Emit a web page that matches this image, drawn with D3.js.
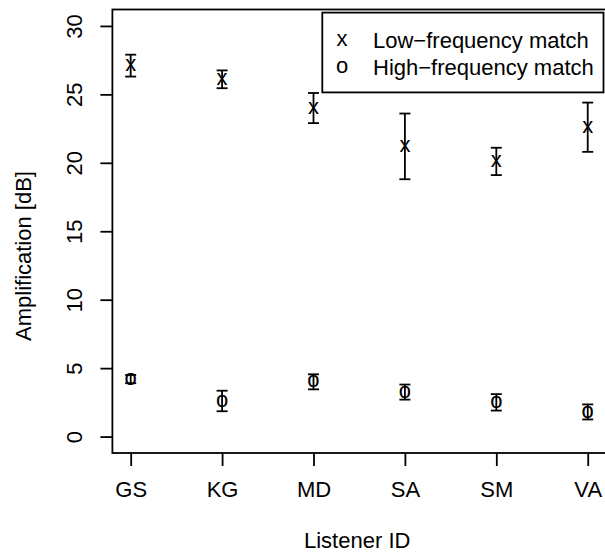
<!DOCTYPE html>
<html>
<head>
<meta charset="utf-8">
<script src="https://cdn.jsdelivr.net/npm/d3@7/dist/d3.min.js"></script>
<style>
  html, body { margin: 0; padding: 0; background: #fff; }
  svg { display: block; }
  text { font-family: "Liberation Sans", Arial, Helvetica, sans-serif; fill: #000; }
</style>
</head>
<body>
<div id="chart"></div>
<script>
// Listener IDs on the x axis
const listeners = ["GS", "KG", "MD", "SA", "SM", "VA"];

// Mean amplification (dB) and error half-widths for each match condition
const lowMean  = [27.1, 26.1, 24.0, 21.2, 20.1, 22.6];
const lowErr   = [0.8, 0.65, 1.1, 2.4, 1.0, 1.8];
const highMean = [4.2, 2.6, 4.0, 3.25, 2.5, 1.8];
const highErr  = [0.3, 0.75, 0.55, 0.55, 0.6, 0.55];

// Axis ticks and legend entries
const yTicks = [0, 5, 10, 15, 20, 25, 30];
const legendSymbols = ["x", "o"];
const legendLabels = ["Low\u2212frequency match", "High\u2212frequency match"];

const W = 605, H = 556;
const fs = 22;
const lw = 1.8;

const svg = d3.select("#chart").append("svg")
  .attr("width", W).attr("height", H);

const x = d3.scaleLinear().domain([0.8, 6.2]).range([112.4, 606]);
const y = d3.scaleLinear().domain([-1.2, 31.2]).range([453, 9.5]);

// plot frame
svg.append("rect")
  .attr("x", x(0.8)).attr("y", y(31.2))
  .attr("width", x(6.2) - x(0.8)).attr("height", y(-1.2) - y(31.2))
  .attr("fill", "none").attr("stroke", "#000").attr("stroke-width", lw);

// y axis
const yAxis = d3.axisLeft(y).tickValues(yTicks).tickSize(12).tickPadding(0).tickFormat(d3.format("d"));
const gy = svg.append("g").attr("transform", `translate(${x(0.8)},0)`).call(yAxis);
gy.select(".domain").remove();
gy.selectAll(".tick line").attr("stroke", "#000").attr("stroke-width", lw);
gy.selectAll(".tick text")
  .attr("x", 0).attr("dy", null)
  .attr("transform", "translate(-30,0) rotate(-90)")
  .attr("text-anchor", "middle")
  .style("font-size", fs + "px");

// x axis
const xAxis = d3.axisBottom(x).tickValues(d3.range(1, listeners.length + 1))
  .tickSize(13).tickPadding(0).tickFormat((d) => listeners[d - 1]);
const gx = svg.append("g").attr("transform", `translate(0,${y(-1.2)})`).call(xAxis);
gx.select(".domain").remove();
gx.selectAll(".tick line").attr("stroke", "#000").attr("stroke-width", lw);
gx.selectAll(".tick text")
  .attr("y", 44).attr("dy", null)
  .style("font-size", fs + "px");

// axis titles
svg.append("text")
  .attr("x", (x(0.8) + x(6.2)) / 2 - 2).attr("y", 548)
  .attr("text-anchor", "middle").style("font-size", fs + "px")
  .text("Listener ID");
svg.append("text")
  .attr("transform", "translate(31,256) rotate(-90)")
  .attr("text-anchor", "middle").style("font-size", fs + "px")
  .text("Amplification [dB]");

// error bars with caps plus character markers
const cap = 5.5;
function series(means, errs, symbol) {
  const g = svg.append("g");
  means.forEach((m, i) => {
    const cx = x(i + 1);
    const lo = y(m - errs[i]), hi = y(m + errs[i]);
    g.append("line").attr("x1", cx).attr("x2", cx).attr("y1", lo).attr("y2", hi)
      .attr("stroke", "#000").attr("stroke-width", lw);
    [lo, hi].forEach((yy) => {
      g.append("line").attr("x1", cx - cap).attr("x2", cx + cap).attr("y1", yy).attr("y2", yy)
        .attr("stroke", "#000").attr("stroke-width", lw);
    });
    g.append("text").attr("x", cx).attr("y", y(m) + 5.6)
      .attr("text-anchor", "middle").style("font-size", fs + "px")
      .text(symbol);
  });
}
series(lowMean, lowErr, legendSymbols[0]);
series(highMean, highErr, legendSymbols[1]);

// legend
const lg = svg.append("g");
lg.append("rect").attr("x", 322.3).attr("y", 12.6).attr("width", 281.2).attr("height", 79.8)
  .attr("fill", "#fff").attr("stroke", "#000").attr("stroke-width", lw);
legendLabels.forEach((lab, i) => {
  const cy = 40 + i * 27;
  lg.append("text").attr("x", 342).attr("y", cy + 5.6)
    .attr("text-anchor", "middle").style("font-size", fs + "px").text(legendSymbols[i]);
  lg.append("text").attr("x", 373).attr("y", cy + 8)
    .style("font-size", fs + "px").text(lab);
});
</script>
</body>
</html>
